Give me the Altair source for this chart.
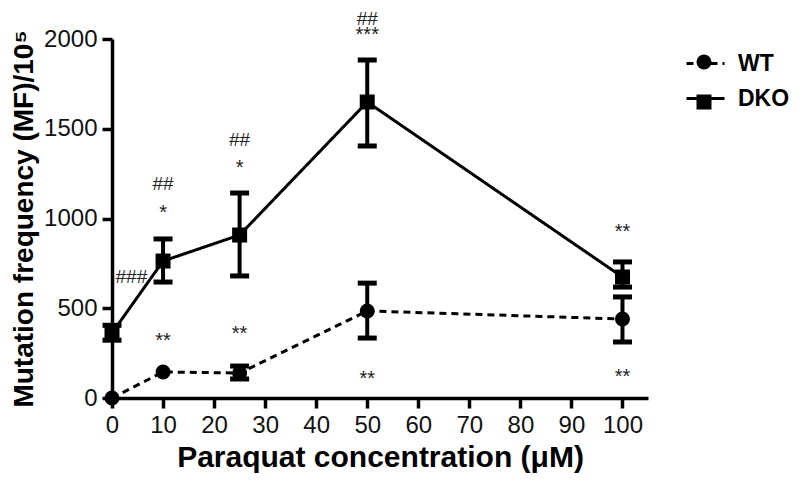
import altair as alt
import pandas as pd

conc = [0, 10, 25, 50, 100]
wt_mean = [0, 145, 139, 485, 440]
wt_lo = [0, 145, 106, 334, 312]
wt_hi = [0, 145, 178, 640, 563]
dko_mean = [362, 763, 908, 1649, 674]
dko_lo = [322, 646, 680, 1404, 618]
dko_hi = [405, 886, 1142, 1883, 758]

series_names = ["WT", "DKO"]

ann_x = [3.8, 10, 10, 10, 25, 25, 25, 50, 50, 50, 100, 100]
ann_y = [675, 357, 1070, 1192, 396, 1320, 1437, 2060, 2110, 145, 964, 156]
ann_text = ["###", "**", "*", "##", "**", "*", "##", "***", "##", "**", "**", "**"]

x_ticks = list(range(0, 101, 10))
y_ticks = [0, 500, 1000, 1500, 2000]

rows = []
for i, c in enumerate(conc):
    rows.append({"conc": c, "mean": wt_mean[i], "lo": wt_lo[i], "hi": wt_hi[i], "series": "WT", "key": "a"})
for i, c in enumerate(conc):
    rows.append({"conc": c, "mean": dko_mean[i], "lo": dko_lo[i], "hi": dko_hi[i], "series": "DKO", "key": "b"})
df = pd.DataFrame(rows)
err_df = df[df["lo"] != df["hi"]]
ann_df = pd.DataFrame({"x": ann_x, "y": ann_y, "t": ann_text})
star_df = ann_df[ann_df["t"].str.contains(r"\*")]
hash_df = ann_df[~ann_df["t"].str.contains(r"\*")]

FONT = "Liberation Sans"

xs = alt.Scale(domain=[0, 105], nice=False)
ys = alt.Scale(domain=[0, 2000], nice=False)

X = alt.X("conc:Q", scale=xs, axis=alt.Axis(values=x_ticks, title="Paraquat concentration (μM)"))
Y = alt.Y("mean:Q", scale=ys, axis=alt.Axis(values=y_ticks, format="d", title="Mutation frequency (MF)/10⁵"))

base = alt.Chart(df)

# line segment of the legend, carrying the visible labels
lines = base.mark_line(color="black", strokeWidth=3).encode(
    x=X, y=Y,
    strokeDash=alt.StrokeDash(
        "key:N", scale=alt.Scale(range=[[7, 5], [1, 0]]),
        legend=alt.Legend(
            title=None, orient="none", legendX=573, legendY=4,
            symbolType="stroke", symbolSize=1444, symbolStrokeColor="black", symbolStrokeWidth=3,
            labelExpr="datum.label == 'a' ? 'WT' : 'DKO'",
            labelFont=FONT, labelFontSize=23, labelFontWeight="bold", labelColor="black",
            labelOffset=12, rowPadding=2,
        ),
    ),
    detail="series:N",
)

rules = alt.Chart(err_df).mark_rule(color="black", strokeWidth=4).encode(
    x=alt.X("conc:Q", scale=xs), y=alt.Y("lo:Q", scale=ys), y2="hi:Q"
)
caps_lo = alt.Chart(err_df).mark_tick(color="black", thickness=5, size=19, orient="horizontal", opacity=1).encode(
    x=alt.X("conc:Q", scale=xs), y=alt.Y("lo:Q", scale=ys)
)
caps_hi = alt.Chart(err_df).mark_tick(color="black", thickness=5, size=19, orient="horizontal", opacity=1).encode(
    x=alt.X("conc:Q", scale=xs), y=alt.Y("hi:Q", scale=ys)
)

# marker of the legend, laid over the line segment (no labels)
points = base.mark_point(filled=True, color="black", size=225, opacity=1).encode(
    x=X, y=Y,
    shape=alt.Shape(
        "series:N", scale=alt.Scale(domain=series_names, range=["circle", "square"]),
        legend=alt.Legend(
            title=None, orient="none", legendX=584.5, legendY=15.5,
            symbolSize=225, symbolFillColor="black", symbolStrokeWidth=0, symbolOpacity=1,
            labelExpr="''", labelFontSize=10, labelOffset=0, rowPadding=25,
        ),
    ),
)

hash_text = alt.Chart(hash_df).mark_text(font=FONT, fontSize=19, color="#222222", baseline="middle").encode(
    x=alt.X("x:Q", scale=xs), y=alt.Y("y:Q", scale=ys), text="t:N"
)
star_text = alt.Chart(star_df).mark_text(font=FONT, fontSize=20, color="#222222", baseline="middle", dy=7).encode(
    x=alt.X("x:Q", scale=xs), y=alt.Y("y:Q", scale=ys), text="t:N"
)

chart = alt.layer(lines, rules, caps_lo, caps_hi, points, hash_text, star_text).properties(
    width=536, height=359,
    autosize=alt.AutoSizeParams(type="none"),
    padding={"left": 104, "top": 31, "right": 144, "bottom": 82},
).configure_view(stroke=None).configure_axis(
    grid=False, domainColor="black", domainWidth=3.5, tickColor="black", tickWidth=3.5, tickSize=10,
    labelFont=FONT, labelFontSize=24, labelColor="#111111", labelPadding=5,
    titleFont=FONT, titleFontWeight="bold", titleColor="black",
).configure_axisY(titlePadding=5, titleFontSize=28).configure_axisX(titlePadding=5, titleFontSize=30, labelFlush=False)

chart.save("out.html", embed_options={"renderer": "svg", "actions": False})
